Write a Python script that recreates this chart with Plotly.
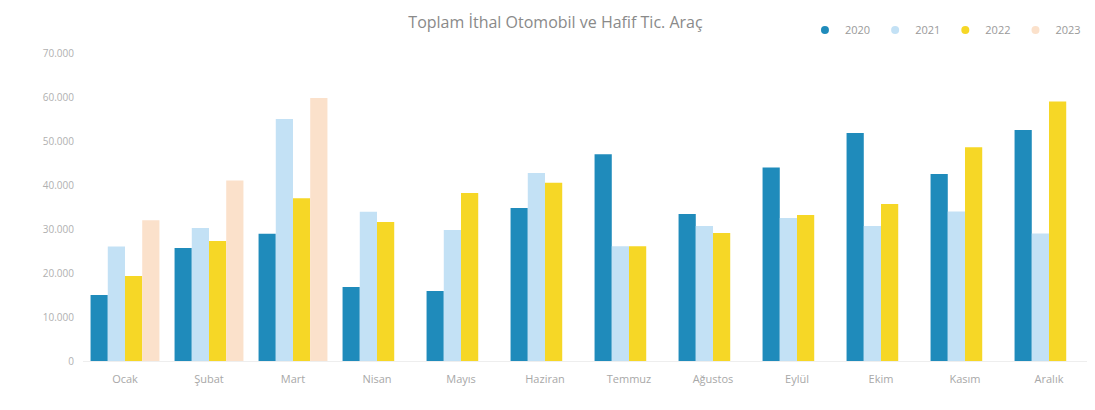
import plotly.graph_objects as go

months = ["Ocak", "Şubat", "Mart", "Nisan", "Mayıs", "Haziran", "Temmuz",
          "Ağustos", "Eylül", "Ekim", "Kasım", "Aralık"]
y2020 = [15000, 25700, 28900, 16800, 15900, 34800, 47000, 33400, 44000, 51800, 42500, 52500]
y2021 = [26000, 30200, 55000, 33900, 29800, 42700, 26100, 30700, 32500, 30700, 34000, 29000]
y2022 = [19300, 27300, 37000, 31600, 38200, 40500, 26100, 29100, 33200, 35700, 48600, 59000]
y2023 = [32000, 41000, 59800, None, None, None, None, None, None, None, None, None]
tick_vals = [0, 10000, 20000, 30000, 40000, 50000, 60000, 70000]

series = [
    ("2020", y2020, "#1F8BBB"),
    ("2021", y2021, "#C3E1F5"),
    ("2022", y2022, "#F6D726"),
    ("2023", y2023, "#FBE1CB"),
]

fig = go.Figure()
for name, vals, col in series:
    fig.add_trace(go.Bar(name=name, x=months, y=vals, showlegend=False,
                         marker=dict(color=col, line=dict(width=0))))
# legend entries with round markers
for name, vals, col in series:
    fig.add_trace(go.Scatter(name=name, x=[None], y=[None], mode="markers",
                             marker=dict(symbol="circle", size=8, color=col)))

fig.update_layout(
    width=1095, height=410,
    paper_bgcolor="white", plot_bgcolor="white",
    barmode="group", bargap=0.18, bargroupgap=0.0,
    separators=",.",
    margin=dict(l=75, r=12, t=45, b=57, autoexpand=False),
    title=dict(text="Toplam İthal Otomobil ve Hafif Tic. Araç", x=0.5, xanchor="center",
               y=0.965, yanchor="middle",
               font=dict(family="Open Sans", size=16, color="#8a8a8a")),
    legend=dict(orientation="h", x=0.995, xanchor="right", y=1.075, yanchor="middle",
                font=dict(family="Open Sans", size=11, color="#9a9a9a"),
                itemwidth=30, traceorder="normal"),
    font=dict(family="Open Sans", color="#a8a8a8"),
)
fig.update_yaxes(range=[0, 70000], tickvals=tick_vals, tickformat=",d",
                 showgrid=False, zeroline=False, showline=False,
                 tickfont=dict(size=10, color="#b0b0b0"), ticks="", ticklabelstandoff=8)
fig.update_xaxes(showgrid=False, showline=True, linecolor="#eeeeee", linewidth=1,
                 tickfont=dict(size=11, color="#a8a8a8"), ticks="", ticklabelstandoff=8)

fig.write_html("out.html")
